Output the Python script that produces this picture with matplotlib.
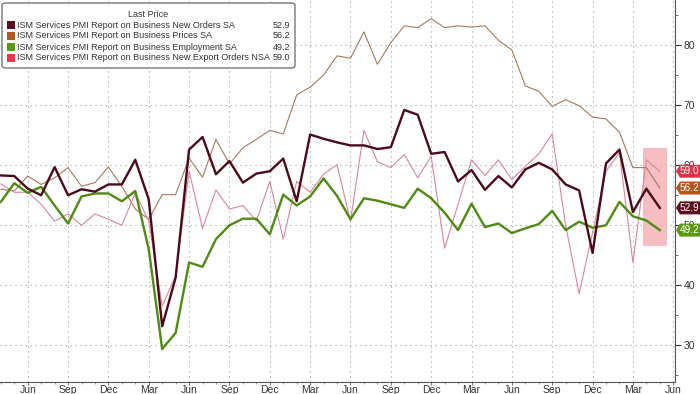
import matplotlib
matplotlib.use("Agg")
import matplotlib.pyplot as plt
from matplotlib.patches import FancyBboxPatch, Rectangle, Polygon
import numpy as np

# ---------------- data (monthly, Apr 2019 .. May 2023) ----------------
start_year, start_month = 2019, 4
new_orders = [58.3, 58.2, 56.1, 55.0, 59.7, 55.0, 56.0, 55.6, 56.8, 56.8,
              60.9, 54.3, 33.2, 41.3, 62.6, 64.7, 58.5, 60.7, 57.1, 58.6,
              59.0, 61.1, 54.0, 65.1, 64.4, 63.8, 63.3, 63.3, 62.7, 63.0,
              69.2, 68.4, 61.9, 62.2, 57.3, 59.2, 55.9, 58.2, 56.3, 59.3,
              60.4, 59.3, 56.8, 55.8, 45.4, 60.3, 62.6, 52.2, 56.1, 52.9]
prices = [56.0, 55.7, 58.2, 56.8, 57.9, 59.6, 56.5, 57.1, 59.7, 56.5,
          52.7, 51.0, 55.1, 55.1, 61.2, 58.0, 64.3, 60.2, 62.9, 64.3,
          65.8, 65.2, 71.7, 73.0, 75.0, 78.2, 77.8, 82.2, 76.8, 80.4,
          83.2, 82.9, 84.4, 82.9, 83.2, 83.0, 83.2, 80.8, 79.2, 73.2,
          72.3, 69.8, 70.9, 69.9, 68.0, 67.7, 65.5, 59.6, 59.6, 56.2]
employment = [53.9, 57.0, 55.4, 56.4, 53.3, 50.3, 54.8, 55.3, 55.3, 54.0,
              55.7, 46.0, 29.4, 32.1, 43.8, 43.1, 47.7, 50.0, 51.1, 51.1,
              48.5, 55.1, 53.3, 54.8, 57.8, 54.9, 51.0, 54.5, 54.1, 53.5,
              52.9, 56.1, 54.5, 52.1, 49.2, 53.6, 49.7, 50.3, 48.7, 49.5,
              50.2, 52.4, 49.2, 50.6, 49.6, 50.0, 53.9, 51.5, 50.8, 49.2]
export_orders = [56.9, 55.5, 55.5, 53.5, 50.7, 51.9, 50.0, 51.9, 51.0, 50.0,
                 55.4, 50.7, 36.6, 41.6, 59.0, 49.5, 55.9, 52.7, 53.3, 50.7,
                 57.3, 47.7, 57.3, 55.5, 58.5, 60.1, 50.7, 65.8, 60.6, 59.6,
                 61.8, 57.9, 61.5, 46.2, 53.5, 60.9, 58.3, 60.9, 57.6, 59.8,
                 61.9, 65.2, 50.0, 38.6, 48.8, 59.0, 62.1, 43.8, 60.9, 59.0]

series_names = ["ISM Services PMI Report on Business New Orders SA",
                "ISM Services PMI Report on Business Prices SA",
                "ISM Services PMI Report on Business Employment SA",
                "ISM Services PMI Report on Business New Export Orders NSA"]
last_labels = ["52.9", "56.2", "49.2", "59.0"]
month_abbr = ["Jan", "Feb", "Mar", "Apr", "May", "Jun",
              "Jul", "Aug", "Sep", "Oct", "Nov", "Dec"]
y_ticks = [30, 40, 50, 60, 70, 80]

# ---------------- styling ----------------
plt.rcParams["font.family"] = ["Liberation Sans", "DejaVu Sans"]
LEG_FS = 7.0

c_new = "#4a0a1a"
c_price = "#a8785c"
c_emp = "#4f8a14"
c_exp = "#d8869c"
tag_colors = ["#5c0f1f", "#b5561b", "#5a9a10", "#e0334a"]
leg_colors = ["#5c0f1f", "#b5561b", "#5a9a10", "#e8384f"]

W, H = 700.0, 394.0
fig = plt.figure(figsize=(W / 100, H / 100), dpi=100)
ax = fig.add_axes([0.0, 12.5 / H, 675 / W, 1 - 12.5 / H])

n = len(new_orders)
x = np.arange(n)

ax.plot(x, prices, color=c_price, lw=0.8, zorder=3)
ax.plot(x, export_orders, color=c_exp, lw=0.8, zorder=3)
ax.plot(x, employment, color=c_emp, lw=1.7, zorder=4)
ax.plot(x, new_orders, color=c_new, lw=1.7, zorder=5)

# highlight box on the latest months
ax.add_patch(Rectangle((47.72, 46.6), 1.79, 16.3, facecolor="#f4a9ad",
                       alpha=0.75, edgecolor="none", zorder=2))

ax.set_xlim(-0.06, 50.13)
ax.set_ylim(24.0, 87.5)

# x ticks: quarterly (Mar/Jun/Sep/Dec)
months = [(start_month - 1 + i) % 12 for i in range(n + 2)]
xt = [i for i in range(n + 2) if months[i] in (2, 5, 8, 11)]
ax.set_xticks(xt)
ax.set_xticklabels([month_abbr[months[i]] for i in xt])
ax.set_xticks(np.arange(0, n + 1), minor=True)

ax.yaxis.tick_right()
ax.set_yticks(y_ticks)
ax.set_yticklabels([str(v) for v in y_ticks])
ax.set_yticks(np.arange(25, 90, 5), minor=True)

ax.tick_params(axis="y", which="major", length=4, width=0.8, color="#333333",
               labelsize=7.5, labelcolor="#333333", pad=2)
ax.tick_params(axis="y", which="minor", length=2, width=0.6, color="#555555")
ax.tick_params(axis="x", which="major", length=2, width=0.6, color="#555555",
               labelsize=7.5, labelcolor="#333333", pad=0.5)
ax.tick_params(axis="x", which="minor", length=1.5, width=0.5, color="#777777")

ax.grid(True, which="major", color="#9a9a9a", lw=0.8, ls=(0, (1, 3.5)))
for s in ("top", "left"):
    ax.spines[s].set_visible(False)
for s in ("right", "bottom"):
    ax.spines[s].set_color("#555555")
    ax.spines[s].set_linewidth(0.8)

# last-value tags on the right axis (pentagon shaped, pointing left)
fig.canvas.draw()
tag_vals = [new_orders[-1], prices[-1], employment[-1], export_orders[-1]]
for val, lab, col in zip(tag_vals, last_labels, tag_colors):
    py = ax.transData.transform((0, val))[1]
    yf = py / H
    h = 6.5 / H
    x0, x1, x2 = 676 / W, 680 / W, 700 / W
    poly = Polygon([(x0, yf), (x1, yf + h), (x2, yf + h), (x2, yf - h),
                    (x1, yf - h)], closed=True, transform=fig.transFigure,
                   fc=col, ec="none", zorder=30)
    fig.patches.append(poly)
    fig.text(689.5 / W, yf, lab, ha="center", va="center", fontsize=7.2,
             color="white", zorder=31)

# legend box (manual, to reproduce the right-aligned "Last Price" column)
box = FancyBboxPatch((2 / W, 1 - 68 / H), 293 / W, 65 / H,
                     boxstyle="round,pad=0,rounding_size=0.006",
                     transform=fig.transFigure, fc="white", ec="#777777",
                     lw=1.0, zorder=20)
fig.patches.append(box)
fig.text(148 / W, 1 - 14.5 / H, "Last Price", ha="center", va="center",
         fontsize=LEG_FS, color="#333333", zorder=21)
rows = [25, 36, 47, 58]
for yy, name, lab, col in zip(rows, series_names, last_labels, leg_colors):
    fig.patches.append(Rectangle((6.5 / W, 1 - (yy + 4) / H), 8 / W, 8 / H,
                                 transform=fig.transFigure, fc=col, ec="none",
                                 zorder=21))
    fig.text(17 / W, 1 - yy / H, name, ha="left", va="center",
             fontsize=LEG_FS, color="#333333", zorder=21)
    fig.text(290 / W, 1 - yy / H, lab, ha="right", va="center",
             fontsize=LEG_FS, color="#333333", zorder=21)

# shrink legend labels if they run into the value column
fig.canvas.draw()
r = fig.canvas.get_renderer()
maxw = max(tx.get_window_extent(r).x1 for tx in fig.texts
           if tx.get_text() in series_names)
if maxw > 270:
    scale = (270 - 17) / (maxw - 17)
    for tx in fig.texts:
        if tx.get_text() in series_names or tx.get_text() == "Last Price" or \
                (tx.get_text() in last_labels and tx.get_color() == "#333333"):
            tx.set_fontsize(LEG_FS * scale)

fig.savefig("out.png", dpi=100, facecolor="white")
